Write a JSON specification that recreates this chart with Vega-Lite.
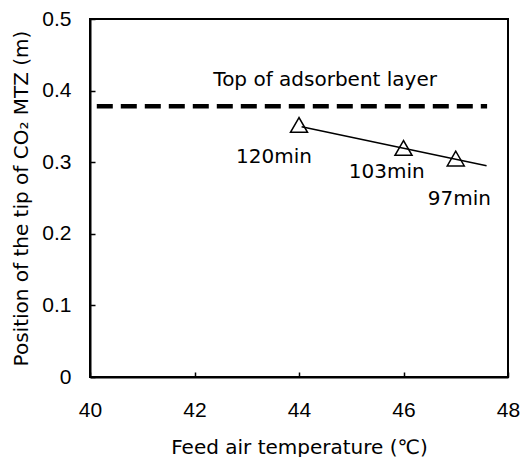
{
  "$schema": "https://vega.github.io/schema/vega-lite/v6.json",
  "autosize": {"type": "none"},
  "padding": {"left": 90, "top": 19, "right": 14, "bottom": 80},
  "width": 418,
  "height": 358,
  "background": "white",
  "config": {
    "view": {"stroke": "black", "strokeWidth": 2},
    "axis": {
      "grid": false,
      "domainColor": "black",
      "domainWidth": 2,
      "tickColor": "black",
      "tickWidth": 1.5,
      "labelColor": "black",
      "labelFont": "Liberation Sans",
      "labelFontSize": 21,
      "titleColor": "black",
      "titleFont": "DejaVu Sans",
      "titleFontSize": 20,
      "titleFontWeight": "normal"
    }
  },
  "layer": [
    {
      "data": {"values": [{"x": 40.13, "x2": 47.6, "y": 0.378}]},
      "mark": {"type": "rule", "color": "black", "strokeWidth": 4.5, "strokeDash": [16, 8]},
      "encoding": {
        "x": {
          "field": "x", "type": "quantitative",
          "scale": {"domain": [40, 48], "nice": false, "zero": false},
          "axis": {
            "values": [40, 42, 44, 46, 48],
            "tickSize": -5,
            "labelPadding": 27,
            "labelOverlap": false,
            "labelFlush": false,
            "title": "Feed air temperature (℃)",
            "titleY": 76,
            "titleBaseline": "alphabetic"
          }
        },
        "x2": {"field": "x2"},
        "y": {
          "field": "y", "type": "quantitative",
          "scale": {"domain": [0, 0.5], "nice": false, "zero": false},
          "axis": {
            "values": [0, 0.1, 0.2, 0.3, 0.4, 0.5],
            "format": ".1~f",
            "tickSize": -5,
            "labelPadding": 24,
            "labelOverlap": false,
            "labelFlush": false,
            "title": "Position of the tip of CO₂ MTZ (m)",
            "titleX": -63,
            "titleY": 179,
            "titleAngle": -90,
            "titleAlign": "center",
            "titleBaseline": "alphabetic"
          }
        }
      }
    },
    {
      "data": {"values": [{"x": 44.05, "y": 0.3496}, {"x": 47.59, "y": 0.2951}]},
      "mark": {"type": "line", "color": "black", "strokeWidth": 1.5},
      "encoding": {
        "x": {"field": "x", "type": "quantitative"},
        "y": {"field": "y", "type": "quantitative"}
      }
    },
    {
      "data": {"values": [{"x": 44, "y": 0.352}, {"x": 46, "y": 0.32}, {"x": 47, "y": 0.305}]},
      "mark": {"type": "point", "shape": "triangle-up", "filled": false, "stroke": "black", "strokeWidth": 1.5, "size": 290, "opacity": 1},
      "encoding": {
        "x": {"field": "x", "type": "quantitative"},
        "y": {"field": "y", "type": "quantitative"}
      }
    },
    {
      "data": {"values": [
        {"x": 43.52, "y": 0.3066, "label": "120min"},
        {"x": 45.68, "y": 0.2863, "label": "103min"},
        {"x": 47.07, "y": 0.2493, "label": "97min"},
        {"x": 44.5, "y": 0.4148, "label": "Top of adsorbent layer"}
      ]},
      "mark": {"type": "text", "font": "DejaVu Sans", "fontSize": 20, "color": "black", "align": "center", "baseline": "middle"},
      "encoding": {
        "x": {"field": "x", "type": "quantitative"},
        "y": {"field": "y", "type": "quantitative"},
        "text": {"field": "label"}
      }
    }
  ]
}
